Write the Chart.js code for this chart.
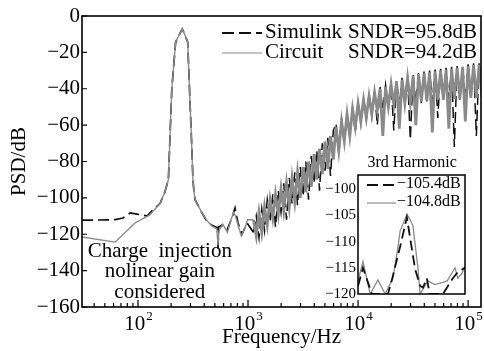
<!DOCTYPE html>
<html>
<head>
<meta charset="utf-8">
<script src="https://cdn.jsdelivr.net/npm/chart.js@4.4.0/dist/chart.umd.min.js"></script>
<style>
  html, body { margin: 0; padding: 0; background: #fff; }
  #wrap { position: relative; width: 484px; height: 351px; }
  #main { position: absolute; left: 0; top: 0; }
  #inset { position: absolute; left: 316px; top: 164px; }
</style>
</head>
<body>
<div id="wrap">
  <canvas id="main" width="484" height="351"></canvas>
  <canvas id="inset" width="154" height="141"></canvas>
</div>
<script>
// ---- data ----
// signal tone and low-frequency part (Hz, dB)
const simFreq = [31, 39, 62, 73, 85, 98, 121, 128, 159, 175, 189, 203, 220, 253, 283, 308, 316, 322, 330, 382, 424, 470, 530, 534, 540, 580, 644, 715, 762, 811, 882, 979];
const simPsd = [-112.2, -112.2, -112, -111.1, -108.3, -108.9, -110, -108.3, -103, -97, -90, -40, -14.3, -7.1, -14.3, -71.5, -90, -96, -101, -108.3, -113, -115, -116.5, -128.7, -116, -115, -117.7, -111, -105.6, -113.8, -120, -113.8];

const cirFreq = [31, 62, 94, 128, 159, 175, 189, 203, 220, 253, 283, 308, 316, 322, 330, 382, 424, 470, 520, 534, 545, 590, 650, 700, 740, 770, 820, 870, 930, 990];
const cirPsd = [-121.5, -124.3, -113.8, -109.4, -103, -97, -90, -40, -14.3, -7.1, -14.3, -71.5, -90, -96, -101, -108.3, -112.5, -115.5, -117, -126, -118, -114.5, -119, -112, -108, -110, -116, -121, -117, -112];

// shaped quantisation noise above 1 kHz
const noiseFreq = [1122, 1189, 1259, 1334, 1413, 1496, 1585, 1679, 1778, 1884,
  1995, 2113, 2239, 2371, 2512, 2661, 2818, 2985, 3162, 3350,
  3548, 3758, 3981, 4217, 4467, 4732, 5012, 5309, 5623, 5957,
  6310, 6683, 7079, 7499, 7943, 8414, 8913, 9441, 10000, 10593,
  11220, 11885, 12589, 13335, 14125, 14962, 15849, 16788, 17783, 18836,
  19953, 21135, 22387, 23714, 25119, 26607, 28184, 29854, 31623, 33497,
  35481, 37584, 39811, 42170, 44668, 47315, 50119, 53088, 56234, 59566,
  63096, 66834, 70795, 74989, 79433, 84140, 89125, 94406, 100000, 105925,
  112202, 118850, 125893, 133352];

const cirNoise = [-112, -121, -108, -119, -105, -115, -101, -111, -98, -109,
  -95, -107, -92, -105, -89, -102, -86, -100, -83, -97,
  -80, -94, -76, -90, -73, -87, -69, -84, -66, -79,
  -61, -74, -58, -69, -54, -66, -51, -61, -48, -58,
  -46, -56, -44, -54, -42, -52, -40, -66, -39, -50,
  -37.5, -49, -36, -62, -35, -48, -34, -47.5, -33, -60,
  -32, -47, -31.5, -46.5, -31, -64, -30.5, -46, -30, -46,
  -29.5, -62, -29, -45.5, -28.5, -45.5, -28, -58, -27.5, -45,
  -27, -45, -27, -44.5];

const simNoise = [-119, -110, -122, -106, -118, -101, -113, -98, -116, -96,
  -108, -92, -112, -89, -103, -86, -104, -83, -99, -80,
  -101, -77, -92, -74, -96, -70, -85, -67, -88, -63,
  -59, -76, -56, -70, -53, -67, -50, -64, -47, -59,
  -45, -57, -42.5, -55, -41, -60, -39, -52, -38, -51,
  -36.5, -63, -35, -50, -34, -49, -33, -68, -32, -48,
  -31, -48, -30.5, -47, -30, -47, -29.5, -56, -29, -46,
  -28.5, -46, -28, -72, -27.5, -46, -27, -46, -26.5, -45,
  -26, -66, -26, -44];

// zoom around the 3rd harmonic (bin index, dB)
const insetSimX = [0, 1.4, 3.9, 8.4, 9.5, 11.8, 13.7, 15.1, 16, 17.4, 18.2, 19.3, 20.1, 23.8, 26.6, 28, 30];
const insetSimPsd = [-118.5, -115, -120, -120, -117.3, -111, -105.4, -111.4, -115.2, -118.4, -118.8, -117, -120, -120, -117, -115.8, -115];
const insetCirX = [0, 1.4, 3.4, 5.6, 7.6, 9.8, 11, 11.8, 13.7, 14.6, 15.4, 16.8, 17.4, 19.6, 21.5, 23.8, 25, 27.2, 28, 29.2, 30];
const insetCirPsd = [-117.5, -113.8, -120, -117.3, -120, -117, -112, -108, -104.8, -105.8, -107, -115, -120, -117.5, -118.2, -117.8, -117.5, -115, -117, -116, -114.7];
const insetYTicks = [-120, -115, -110, -105, -100];

const legendNames = ['Simulink', 'Circuit'];
const legendSndr = ['SNDR=95.8dB', 'SNDR=94.2dB'];
const insetLegend = ['\u2212105.4dB', '\u2212104.8dB'];
const xTickExps = [2, 3, 4, 5];
const noteLines = ['Charge  injection', 'nolinear gain', 'considered'];

const SERIF = '"Liberation Serif", "Times New Roman", serif';
const simColor = '#111';
const cirColor = '#8a8a8a';

const toPoints = (xs, ys) => xs.map((x, i) => ({ x: x, y: ys[i] }));
const minus = v => String(v).replace('-', '\u2212');

// frame, inward ticks, superscript labels, legend and notes
const mainDecor = {
    id: 'mainDecor',
    afterDraw(chart) {
        const { ctx, chartArea: a, scales: { x, y } } = chart;
        ctx.save();
        ctx.strokeStyle = '#000';
        ctx.lineWidth = 1.6;
        ctx.strokeRect(a.left, a.top, a.right - a.left, a.bottom - a.top);

        // bottom ticks (pointing up)
        ctx.lineWidth = 1.2;
        ctx.beginPath();
        for (let d = 10; d <= 100000; d *= 10) {
            for (let m = 1; m <= 9; m++) {
                const v = m * d;
                if (v < x.min || v > x.max) continue;
                const px = x.getPixelForValue(v);
                const len = m === 1 ? 7 : 4;
                ctx.moveTo(px, a.bottom);
                ctx.lineTo(px, a.bottom - len);
            }
        }
        // left ticks
        for (let v = -160; v <= 0; v += 20) {
            const py = y.getPixelForValue(v);
            ctx.moveTo(a.left, py);
            ctx.lineTo(a.left + 5, py);
        }
        ctx.stroke();

        // x tick labels 10^n
        ctx.fillStyle = '#000';
        ctx.textBaseline = 'alphabetic';
        ctx.textAlign = 'left';
        xTickExps.forEach(e => {
            const px = x.getPixelForValue(Math.pow(10, e));
            ctx.font = '21px ' + SERIF;
            const wb = ctx.measureText('10').width;
            ctx.font = '13px ' + SERIF;
            const we = ctx.measureText(String(e)).width;
            const x0 = px - (wb + we) / 2;
            ctx.font = '21px ' + SERIF;
            ctx.fillText('10', x0, a.bottom + 23);
            ctx.font = '13px ' + SERIF;
            ctx.fillText(String(e), x0 + wb + 1, a.bottom + 13);
        });

        // legend
        ctx.font = '21px ' + SERIF;
        ctx.textBaseline = 'middle';
        const rows = [a.top + 16, a.top + 36];
        const lx0 = a.right - 259, lx1 = a.right - 219;
        ctx.strokeStyle = simColor;
        ctx.lineWidth = 1.8;
        ctx.setLineDash([12, 5]);
        ctx.beginPath(); ctx.moveTo(lx0, rows[0] + 1); ctx.lineTo(lx1, rows[0] + 1); ctx.stroke();
        ctx.setLineDash([]);
        ctx.strokeStyle = cirColor;
        ctx.lineWidth = 1.2;
        ctx.beginPath(); ctx.moveTo(lx0, rows[1] + 1); ctx.lineTo(lx1, rows[1] + 1); ctx.stroke();
        legendNames.forEach((n, i) => {
            ctx.fillText(n, a.right - 216, rows[i]);
            ctx.fillText(legendSndr[i], a.right - 133, rows[i]);
        });

        // notes
        ctx.textAlign = 'center';
        const nx = x.getPixelForValue(158);
        const ny = y.getPixelForValue(-129.5);
        noteLines.forEach((t, i) => ctx.fillText(t, nx, ny + i * 20.3));
        ctx.font = '16px ' + SERIF;
        ctx.fillText('3rd Harmonic', x.getPixelForValue(31000), y.getPixelForValue(-80.5));
        ctx.restore();
    }
};

// the dense noise part is drawn thicker so that it reads as a band
const bandWidth = (thin, thick) => c => (c.p0.parsed.x >= 1100 ? thick : thin);

new Chart(document.getElementById('main'), {
    type: 'line',
    data: {
        datasets: [{
            label: 'Circuit',
            data: toPoints(cirFreq.concat(noiseFreq), cirPsd.concat(cirNoise)),
            borderColor: cirColor,
            borderWidth: 1.4,
            segment: { borderWidth: bandWidth(1.4, 2.8) },
            order: 0
        }, {
            label: 'Simulink',
            data: toPoints(simFreq.concat(noiseFreq), simPsd.concat(simNoise)),
            borderColor: simColor,
            borderWidth: 1.7,
            segment: { borderWidth: bandWidth(1.7, 1.5) },
            borderDash: [11, 5],
            order: 1
        }]
    },
    options: {
        responsive: false,
        animation: false,
        layout: { padding: { left: 0, top: 16, right: 3, bottom: 0 } },
        elements: { point: { radius: 0 }, line: { tension: 0 } },
        plugins: { legend: { display: false }, tooltip: { enabled: false } },
        scales: {
            x: {
                type: 'logarithmic',
                min: 31,
                max: 131000,
                grid: { display: false, drawTicks: false },
                border: { display: false },
                ticks: { display: false },
                title: {
                    display: true,
                    text: 'Frequency/Hz',
                    color: '#000',
                    font: { family: SERIF, size: 21 },
                    padding: { top: 0, bottom: 1 }
                },
                afterFit(s) { s.height = 44; }
            },
            y: {
                min: -160,
                max: 0,
                grid: { display: false, drawTicks: false },
                border: { display: false },
                ticks: {
                    stepSize: 20,
                    padding: 2,
                    color: '#000',
                    font: { family: SERIF, size: 21 },
                    callback: v => minus(v)
                },
                title: {
                    display: true,
                    text: 'PSD/dB',
                    color: '#000',
                    font: { family: SERIF, size: 21 },
                    padding: { top: 7, bottom: 0 }
                },
                afterFit(s) { s.width = 82; }
            }
        }
    },
    plugins: [mainDecor]
});

// inset: white box, frame and its own legend
const insetDecor = {
    id: 'insetDecor',
    beforeDatasetsDraw(chart) {
        const { ctx, chartArea: a } = chart;
        ctx.save();
        ctx.fillStyle = '#fff';
        ctx.fillRect(a.left, a.top, a.right - a.left, a.bottom - a.top);
        ctx.restore();
    },
    afterDraw(chart) {
        const { ctx, chartArea: a } = chart;
        ctx.save();
        ctx.strokeStyle = '#000';
        ctx.lineWidth = 1.5;
        ctx.strokeRect(a.left, a.top, a.right - a.left, a.bottom - a.top);
        ctx.font = '16px ' + SERIF;
        ctx.fillStyle = '#000';
        ctx.textBaseline = 'middle';
        const rows = [a.top + 9, a.top + 27];
        ctx.strokeStyle = simColor;
        ctx.lineWidth = 1.8;
        ctx.setLineDash([11, 5]);
        ctx.beginPath(); ctx.moveTo(a.left + 9, rows[0] + 1); ctx.lineTo(a.left + 38, rows[0] + 1); ctx.stroke();
        ctx.setLineDash([]);
        ctx.strokeStyle = cirColor;
        ctx.lineWidth = 1.2;
        ctx.beginPath(); ctx.moveTo(a.left + 9, rows[1] + 1); ctx.lineTo(a.left + 38, rows[1] + 1); ctx.stroke();
        insetLegend.forEach((t, i) => ctx.fillText(t, a.left + 39, rows[i]));
        ctx.restore();
    }
};

new Chart(document.getElementById('inset'), {
    type: 'line',
    data: {
        datasets: [{
            data: toPoints(insetCirX, insetCirPsd),
            borderColor: cirColor,
            borderWidth: 1.3,
            order: 1
        }, {
            data: toPoints(insetSimX, insetSimPsd),
            borderColor: simColor,
            borderWidth: 1.8,
            borderDash: [10, 5],
            order: 0
        }]
    },
    options: {
        responsive: false,
        animation: false,
        layout: { padding: { left: 0, top: 11, right: 5, bottom: 11 } },
        elements: { point: { radius: 0 }, line: { tension: 0 } },
        plugins: { legend: { display: false }, tooltip: { enabled: false } },
        scales: {
            x: { type: 'linear', min: 0, max: 30, display: false },
            y: {
                min: -120,
                max: -97.3,
                grid: { display: false, drawTicks: false },
                border: { display: false },
                afterBuildTicks(s) { s.ticks = insetYTicks.map(v => ({ value: v })); },
                ticks: {
                    autoSkip: false,
                    padding: 2,
                    color: '#000',
                    font: { family: SERIF, size: 15 },
                    callback: v => minus(v)
                },
                afterFit(s) { s.width = 42; }
            }
        }
    },
    plugins: [insetDecor]
});
</script>
</body>
</html>
